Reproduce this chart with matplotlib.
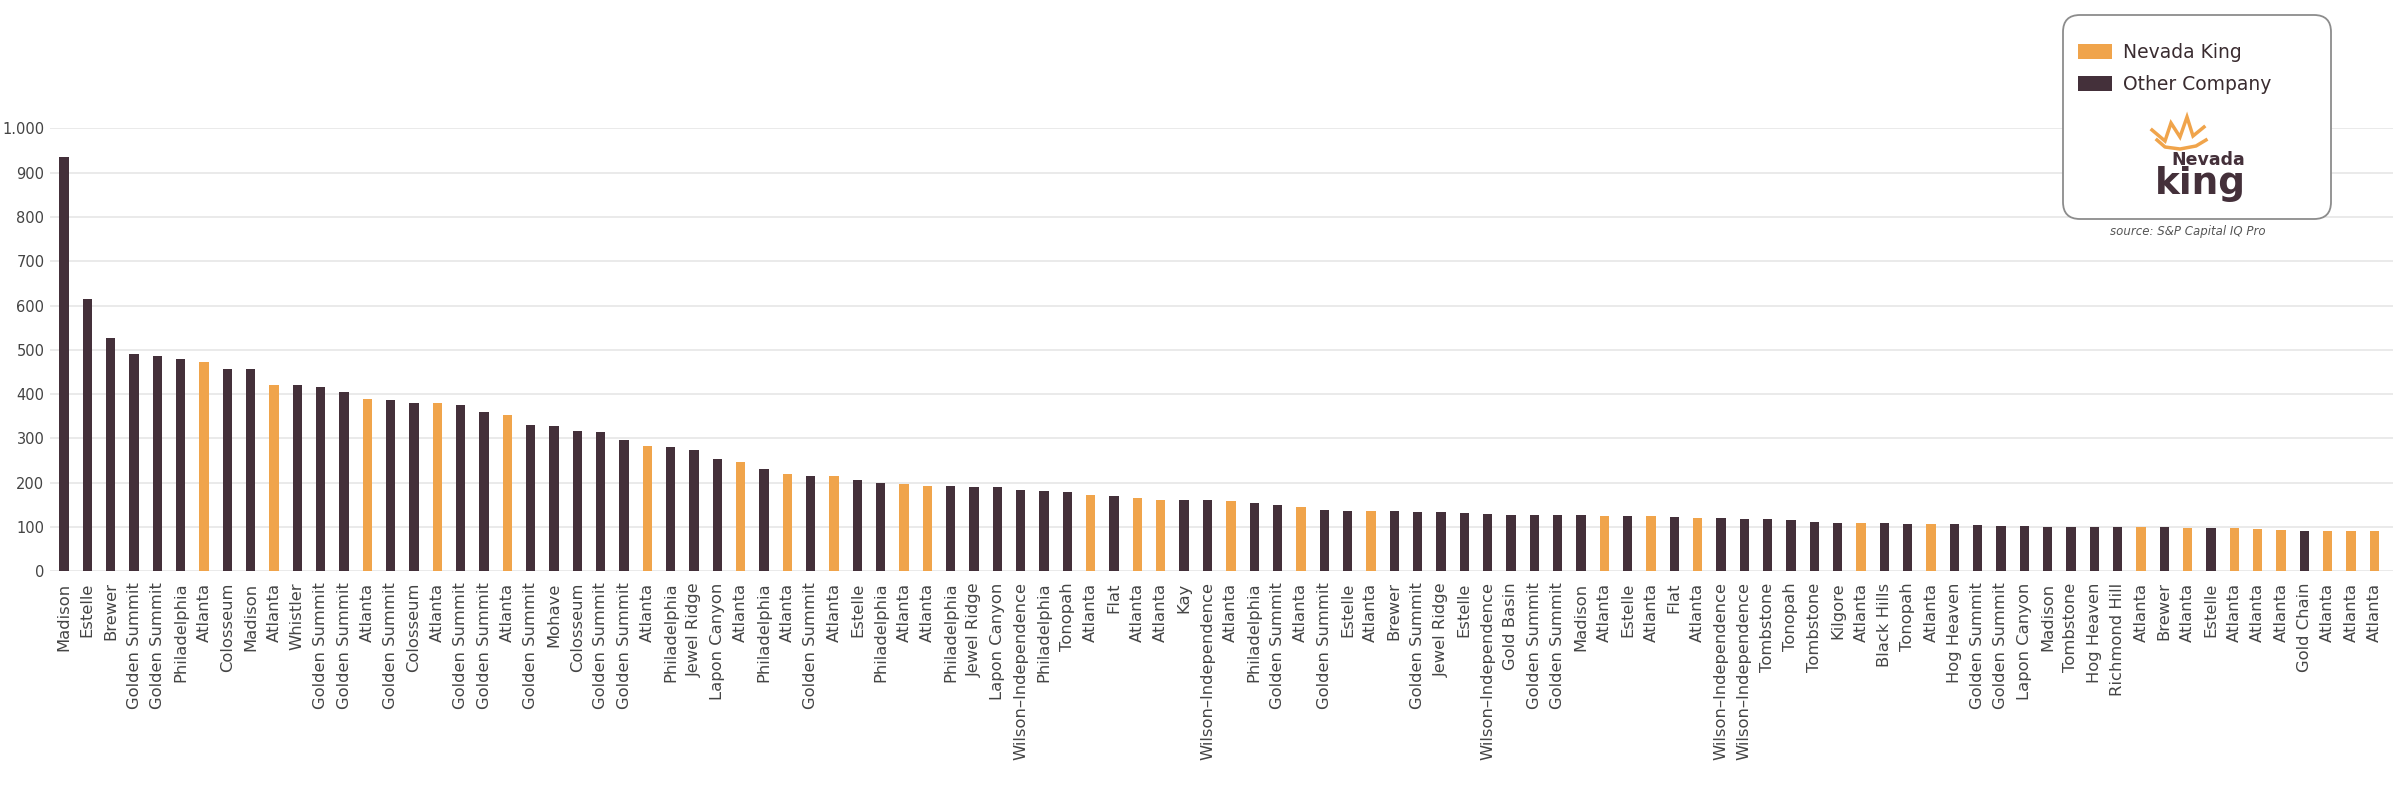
import matplotlib
matplotlib.use('Agg')
import matplotlib.pyplot as plt
from matplotlib.patches import FancyBboxPatch, Rectangle
from matplotlib.lines import Line2D
from matplotlib.ticker import FuncFormatter

projects = [
    'Madison', 'Estelle', 'Brewer', 'Golden Summit', 'Golden Summit', 'Philadelphia', 'Atlanta',
    'Colosseum', 'Madison', 'Atlanta', 'Whistler', 'Golden Summit', 'Golden Summit', 'Atlanta',
    'Golden Summit', 'Colosseum', 'Atlanta', 'Golden Summit', 'Golden Summit', 'Atlanta',
    'Golden Summit', 'Mohave', 'Colosseum', 'Golden Summit', 'Golden Summit', 'Atlanta',
    'Philadelphia', 'Jewel Ridge', 'Lapon Canyon', 'Atlanta', 'Philadelphia', 'Atlanta',
    'Golden Summit', 'Atlanta', 'Estelle', 'Philadelphia', 'Atlanta', 'Atlanta', 'Philadelphia',
    'Jewel Ridge', 'Lapon Canyon', 'Wilson–Independence', 'Philadelphia', 'Tonopah', 'Atlanta',
    'Flat', 'Atlanta', 'Atlanta', 'Kay', 'Wilson–Independence', 'Atlanta', 'Philadelphia',
    'Golden Summit', 'Atlanta', 'Golden Summit', 'Estelle', 'Atlanta', 'Brewer', 'Golden Summit',
    'Jewel Ridge', 'Estelle', 'Wilson–Independence', 'Gold Basin', 'Golden Summit', 'Golden Summit',
    'Madison', 'Atlanta', 'Estelle', 'Atlanta', 'Flat', 'Atlanta', 'Wilson–Independence',
    'Wilson–Independence', 'Tombstone', 'Tonopah', 'Tombstone', 'Kilgore', 'Atlanta', 'Black Hills',
    'Tonopah', 'Atlanta', 'Hog Heaven', 'Golden Summit', 'Golden Summit', 'Lapon Canyon', 'Madison',
    'Tombstone', 'Hog Heaven', 'Richmond Hill', 'Atlanta', 'Brewer', 'Atlanta', 'Estelle', 'Atlanta',
    'Atlanta', 'Atlanta', 'Gold Chain', 'Atlanta', 'Atlanta', 'Atlanta',
]

values = [
    935, 614, 527, 491, 486, 479, 472, 457, 456, 421,
    420, 417, 404, 388, 386, 381, 380, 375, 359, 352,
    330, 327, 317, 314, 296, 282, 280, 273, 253, 247,
    232, 220, 214, 214, 205, 199, 198, 193, 192, 190,
    190, 184, 182, 178, 173, 171, 165, 162, 160, 160,
    159, 154, 150, 145, 138, 137, 137, 135, 134, 134,
    131, 129, 127, 127, 127, 127, 125, 125, 125, 123,
    120, 120, 117, 117, 116, 111, 110, 110, 109, 107,
    107, 106, 104, 103, 103, 101, 101, 101, 100, 100,
    99, 98, 98, 97, 95, 93, 92, 92, 91, 91,
]

nevada_king_projects = ['Atlanta']
legend_labels = ['Nevada King', 'Other Company']

color_nk = '#f0a44b'
color_other = '#44303a'
text_color = '#444444'

colors = [color_nk if p in nevada_king_projects else color_other for p in projects]

W, H = 2400, 790
fig = plt.figure(figsize=(W / 100, H / 100), dpi=100)
ax = fig.add_axes([50 / W, 1 - 571.3 / H, (2393 - 50) / W, (571.3 - 128.3) / H])

x = list(range(len(projects)))
ax.bar(x, values, width=0.4, color=colors, zorder=3)

ax.set_xlim(-0.6, len(projects) - 0.2)
ax.set_ylim(0, 1000)
ax.set_yticks(range(0, 1001, 100))
ax.yaxis.set_major_formatter(FuncFormatter(lambda v, p: f'{int(v):,}'.replace(',', '.')))
ax.set_xticks(x)
ax.set_xticklabels(projects, rotation=90, fontsize=11.8, color=text_color)
ax.tick_params(axis='both', length=0)
ax.tick_params(axis='x', pad=8)
ax.tick_params(axis='y', labelsize=10.5, labelcolor=text_color, pad=4)
ax.grid(axis='y', color='#e8e8e8', linewidth=1.3, zorder=0)
for s in ax.spines.values():
    s.set_visible(False)


# legend box, drawn in pixel units (1 inch = 100 px)
def px(xp, yp):
    return xp / 100, (H - yp) / 100


box = FancyBboxPatch(px(2063, 219), 2.68, 2.04, boxstyle='round,pad=0,rounding_size=0.17',
                     transform=fig.dpi_scale_trans, facecolor='white', edgecolor='#8c8c8c',
                     linewidth=1.3)
fig.patches.append(box)

for i, (lab, col) in enumerate(zip(legend_labels, [color_nk, color_other])):
    y0 = 59 + i * 32
    fig.patches.append(Rectangle(px(2078, y0), 0.34, 0.15, transform=fig.dpi_scale_trans,
                                 facecolor=col, edgecolor='none'))
    fig.text(*px(2123, y0 - 7), lab, transform=fig.dpi_scale_trans, fontsize=13.5,
             color='#3a2c30', va='center', ha='left')

# logo
crown = [(2152, 130), (2165, 141), (2171, 123), (2180, 137), (2187, 117), (2193, 136), (2204, 127)]
cx, cy = zip(*[px(a, b) for a, b in crown])
fig.add_artist(Line2D(cx, cy, transform=fig.dpi_scale_trans, color=color_nk, linewidth=2.5,
                      solid_joinstyle='miter'))
swoosh = [(2157, 140), (2165, 147), (2180, 149), (2196, 146), (2206, 140)]
sx, sy = zip(*[px(a, b) for a, b in swoosh])
fig.add_artist(Line2D(sx, sy, transform=fig.dpi_scale_trans, color=color_nk, linewidth=2.5))
fig.text(*px(2208, 160), 'Nevada', transform=fig.dpi_scale_trans, fontsize=12.5,
         fontweight='bold', color=color_other, ha='center', va='center')
fig.text(*px(2200, 184), 'king', transform=fig.dpi_scale_trans, fontsize=27,
         fontweight='heavy', color=color_other, ha='center', va='center')

fig.text(*px(2188, 232), 'source: S&P Capital IQ Pro', transform=fig.dpi_scale_trans,
         fontsize=8.5, style='italic', color='#555555', ha='center', va='center')

fig.savefig('out.png', dpi=100)
